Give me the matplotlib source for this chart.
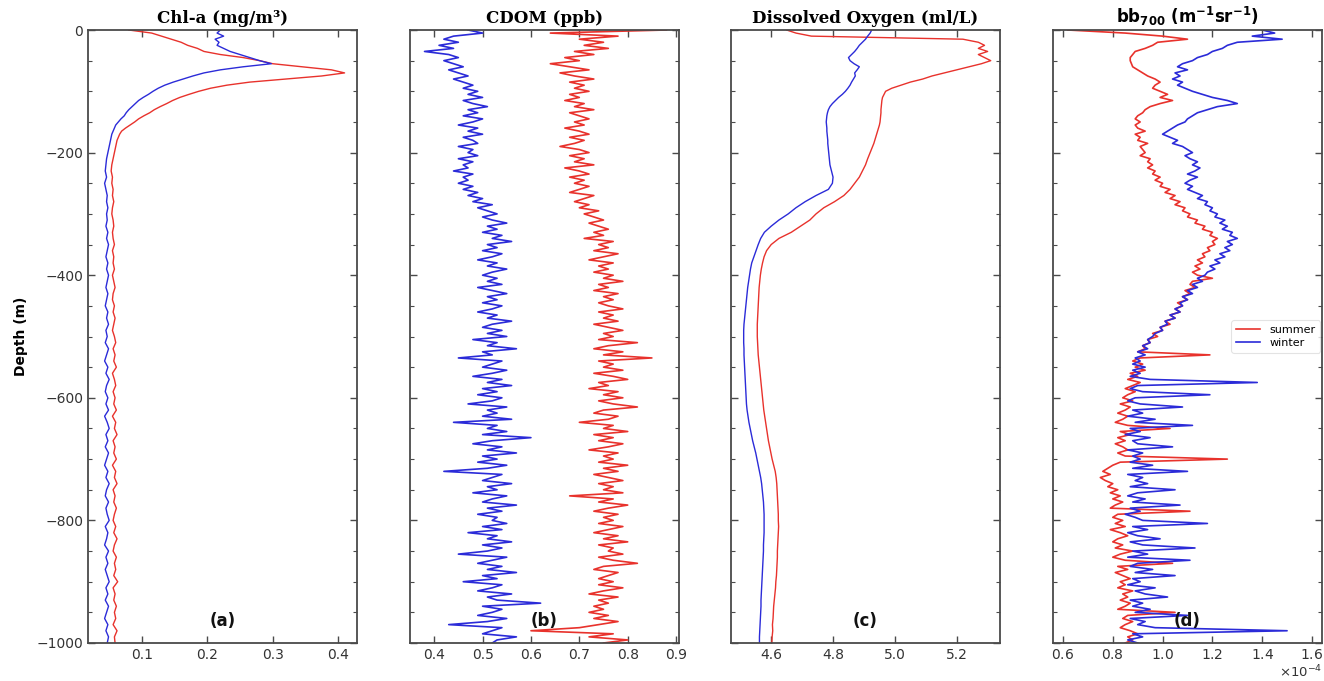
import numpy as np
import matplotlib
matplotlib.use("Agg")
import matplotlib.pyplot as plt
from matplotlib.ticker import MultipleLocator

# ---------------- depth grids (m) ----------------
depth_profile = np.concatenate([np.arange(0, 200, 5), np.arange(200, 1001, 10)])  # 121 pts
depth_5m = np.arange(0, 1001, 5)  # 201 pts

# ---------------- (a) Chl-a (mg/m3) ----------------
chl_summer = [
    0.08, 0.115, 0.13, 0.145, 0.16, 0.17, 0.185, 0.195, 0.22, 0.255,
    0.28, 0.30, 0.345, 0.39, 0.41, 0.375, 0.32, 0.265, 0.23, 0.205,
    0.187, 0.172, 0.158, 0.147, 0.138, 0.128, 0.119, 0.112, 0.103, 0.095,
    0.089, 0.082, 0.075, 0.069, 0.066, 0.064, 0.062, 0.061, 0.060, 0.059,
    0.058, 0.056, 0.054, 0.053, 0.055, 0.054, 0.056, 0.055, 0.057, 0.055,
    0.054, 0.056, 0.057, 0.055, 0.056, 0.058, 0.055, 0.057, 0.056, 0.058,
    0.055, 0.057, 0.059, 0.056, 0.055, 0.058, 0.056, 0.059, 0.057, 0.055,
    0.058, 0.060, 0.056, 0.059, 0.057, 0.061, 0.055, 0.058, 0.060, 0.056,
    0.059, 0.057, 0.061, 0.055, 0.060, 0.058, 0.062, 0.056, 0.059, 0.057,
    0.061, 0.055, 0.060, 0.058, 0.062, 0.056, 0.059, 0.057, 0.061, 0.058,
    0.056, 0.060, 0.057, 0.062, 0.058, 0.056, 0.061, 0.058, 0.060, 0.057,
    0.063, 0.056, 0.059, 0.057, 0.061, 0.058, 0.060, 0.056, 0.062, 0.058,
    0.059,
]
chl_winter = [
    0.22, 0.215, 0.225, 0.212, 0.218, 0.215, 0.225, 0.235, 0.25, 0.265,
    0.28, 0.298, 0.255, 0.22, 0.195, 0.178, 0.163, 0.148, 0.135, 0.125,
    0.117, 0.110, 0.102, 0.095, 0.090, 0.085, 0.080, 0.076, 0.073, 0.068,
    0.064, 0.060, 0.058, 0.056, 0.054, 0.053, 0.052, 0.051, 0.050, 0.049,
    0.048, 0.046, 0.045, 0.044, 0.046, 0.043, 0.045, 0.047, 0.046, 0.048,
    0.046, 0.047, 0.045, 0.048, 0.046, 0.049, 0.047, 0.045, 0.048, 0.046,
    0.049, 0.047, 0.045, 0.048, 0.046, 0.044, 0.048, 0.046, 0.049, 0.045,
    0.047, 0.044, 0.049, 0.046, 0.043, 0.048, 0.045, 0.050, 0.046, 0.044,
    0.048, 0.045, 0.049, 0.043, 0.047, 0.050, 0.045, 0.048, 0.044, 0.049,
    0.046, 0.043, 0.048, 0.045, 0.050, 0.046, 0.044, 0.049, 0.045, 0.047,
    0.050, 0.044, 0.048, 0.046, 0.043, 0.049, 0.045, 0.048, 0.044, 0.047,
    0.050, 0.045, 0.048, 0.044, 0.049, 0.046, 0.043, 0.048, 0.045, 0.049,
    0.047,
]

# ---------------- (b) CDOM (ppb) ----------------
cdom_summer = [
    0.88, 0.64, 0.78, 0.70, 0.75, 0.71, 0.76, 0.69, 0.73, 0.67,
    0.70, 0.64, 0.68, 0.72, 0.66, 0.69, 0.73, 0.68, 0.71, 0.69,
    0.72, 0.68, 0.70, 0.67, 0.71, 0.69, 0.73, 0.68, 0.70, 0.72,
    0.69, 0.71, 0.67, 0.70, 0.72, 0.68, 0.71, 0.69, 0.66, 0.70,
    0.72, 0.68, 0.71, 0.69, 0.73, 0.67, 0.70, 0.72, 0.68, 0.71,
    0.69, 0.72, 0.70, 0.68, 0.73, 0.71, 0.69, 0.72, 0.70, 0.74,
    0.71, 0.73, 0.75, 0.72, 0.74, 0.76, 0.73, 0.75, 0.71, 0.77,
    0.74, 0.76, 0.73, 0.78, 0.75, 0.72, 0.77, 0.74, 0.76, 0.73,
    0.77, 0.75, 0.79, 0.74, 0.76, 0.73, 0.78, 0.75, 0.77, 0.74,
    0.76, 0.79, 0.74, 0.77, 0.75, 0.78, 0.73, 0.76, 0.79, 0.75,
    0.77, 0.74, 0.82, 0.76, 0.73, 0.79, 0.75, 0.85, 0.74, 0.77,
    0.75, 0.79, 0.73, 0.77, 0.80, 0.74, 0.76, 0.72, 0.78, 0.75,
    0.79, 0.74, 0.77, 0.82, 0.75, 0.73, 0.78, 0.76, 0.70, 0.77,
    0.75, 0.80, 0.73, 0.77, 0.74, 0.79, 0.76, 0.72, 0.78, 0.75,
    0.77, 0.74, 0.80, 0.75, 0.78, 0.73, 0.76, 0.79, 0.74, 0.77,
    0.75, 0.79, 0.68, 0.77, 0.74, 0.80, 0.76, 0.73, 0.78, 0.75,
    0.77, 0.74, 0.79, 0.76, 0.73, 0.78, 0.75, 0.80, 0.74, 0.77,
    0.76, 0.79, 0.74, 0.77, 0.82, 0.75, 0.73, 0.78, 0.76, 0.74,
    0.77, 0.74, 0.79, 0.75, 0.72, 0.78, 0.74, 0.76, 0.73, 0.75,
    0.72, 0.76, 0.73, 0.78, 0.74, 0.70, 0.60, 0.77, 0.72, 0.80,
    0.75,
]
cdom_winter = [
    0.47, 0.50, 0.44, 0.42, 0.45, 0.41, 0.44, 0.38, 0.43, 0.45,
    0.42, 0.44, 0.46, 0.43, 0.45, 0.47, 0.44, 0.46, 0.48, 0.46,
    0.49, 0.47, 0.50, 0.46, 0.48, 0.51, 0.47, 0.49, 0.46, 0.50,
    0.48, 0.45, 0.49, 0.47, 0.50, 0.46, 0.48, 0.49, 0.45, 0.48,
    0.47, 0.49, 0.45, 0.48, 0.46, 0.47, 0.44, 0.48, 0.46, 0.47,
    0.45, 0.48, 0.46, 0.49, 0.47, 0.50, 0.48, 0.52, 0.49, 0.51,
    0.53, 0.50, 0.52, 0.55, 0.51, 0.53, 0.50, 0.54, 0.52, 0.56,
    0.51, 0.53, 0.50, 0.54, 0.52, 0.49, 0.53, 0.51, 0.55, 0.52,
    0.50, 0.53, 0.51, 0.54, 0.49, 0.52, 0.55, 0.51, 0.53, 0.50,
    0.54, 0.52, 0.49, 0.53, 0.51, 0.56, 0.52, 0.50, 0.54, 0.51,
    0.55, 0.48, 0.53, 0.51, 0.57, 0.50, 0.52, 0.45, 0.54, 0.52,
    0.50, 0.55, 0.52, 0.48, 0.54, 0.51, 0.56, 0.50, 0.53, 0.49,
    0.54, 0.52, 0.47, 0.55, 0.51, 0.53, 0.50, 0.56, 0.44, 0.53,
    0.51, 0.55, 0.50, 0.60, 0.52, 0.48, 0.54, 0.51, 0.57, 0.50,
    0.53, 0.49, 0.55, 0.51, 0.42, 0.54, 0.52, 0.50, 0.56, 0.51,
    0.53, 0.48, 0.55, 0.52, 0.50, 0.57, 0.51, 0.54, 0.49, 0.53,
    0.52, 0.55, 0.50, 0.54, 0.47, 0.53, 0.51, 0.56, 0.50, 0.54,
    0.51, 0.45, 0.55, 0.52, 0.49, 0.54, 0.51, 0.57, 0.50, 0.53,
    0.46, 0.54, 0.52, 0.49, 0.56, 0.51, 0.53, 0.62, 0.50, 0.54,
    0.52, 0.49, 0.55, 0.51, 0.43, 0.54, 0.52, 0.50, 0.57, 0.53,
    0.52,
]

# ---------------- (c) Dissolved oxygen (ml/L) ----------------
do_summer = [
    4.65, 4.68, 4.73, 5.22, 5.27, 5.29, 5.27, 5.30, 5.27, 5.29,
    5.31, 5.28, 5.24, 5.20, 5.16, 5.12, 5.09, 5.05, 5.02, 4.99,
    4.97, 4.965, 4.96, 4.958, 4.957, 4.956, 4.955, 4.955, 4.954, 4.953,
    4.952, 4.95, 4.947, 4.944, 4.941, 4.938, 4.935, 4.932, 4.928, 4.924,
    4.92, 4.912, 4.905, 4.895, 4.885, 4.87, 4.855, 4.835, 4.805, 4.77,
    4.745, 4.725, 4.695, 4.665, 4.625, 4.60, 4.585, 4.577, 4.572, 4.568,
    4.565, 4.563, 4.561, 4.560, 4.559, 4.558, 4.557, 4.556, 4.555, 4.555,
    4.555, 4.556, 4.557, 4.558, 4.560, 4.562, 4.564, 4.566, 4.568, 4.570,
    4.572, 4.574, 4.576, 4.579, 4.582, 4.585, 4.588, 4.591, 4.595, 4.599,
    4.603, 4.608, 4.613, 4.616, 4.618, 4.619, 4.620, 4.621, 4.622, 4.623,
    4.623, 4.624, 4.623, 4.622, 4.621, 4.620, 4.620, 4.619, 4.618, 4.617,
    4.615, 4.614, 4.612, 4.610, 4.608, 4.607, 4.606, 4.604, 4.605, 4.603,
    4.602,
]
do_winter = [
    4.925, 4.92, 4.912, 4.905, 4.895, 4.885, 4.878, 4.87, 4.86, 4.85,
    4.855, 4.868, 4.885, 4.878, 4.87, 4.872, 4.866, 4.86, 4.855, 4.848,
    4.84, 4.83, 4.818, 4.808, 4.798, 4.79, 4.785, 4.782, 4.78, 4.779,
    4.778, 4.779, 4.78, 4.78, 4.781, 4.782, 4.783, 4.783, 4.784, 4.785,
    4.786, 4.788, 4.79, 4.795, 4.80, 4.798, 4.785, 4.745, 4.71, 4.68,
    4.655, 4.625, 4.60, 4.578, 4.566, 4.558, 4.551, 4.544, 4.537, 4.533,
    4.530, 4.527, 4.524, 4.522, 4.520, 4.518, 4.516, 4.514, 4.512, 4.511,
    4.511, 4.511, 4.512, 4.512, 4.513, 4.514, 4.515, 4.516, 4.517, 4.518,
    4.519, 4.520, 4.522, 4.525, 4.528, 4.532, 4.536, 4.540, 4.545, 4.550,
    4.554, 4.558, 4.562, 4.566, 4.569, 4.571, 4.573, 4.575, 4.576, 4.577,
    4.577, 4.577, 4.577, 4.576, 4.575, 4.575, 4.574, 4.573, 4.572, 4.571,
    4.570, 4.569, 4.568, 4.567, 4.567, 4.566, 4.565, 4.564, 4.563, 4.562,
    4.562,
]

# ---------------- (d) bb700 (x1e-4 m^-1 sr^-1) ----------------
bb_summer = [
    0.62, 0.85, 1.00, 1.10, 0.98, 0.96, 0.93, 0.89, 0.88, 0.87,
    0.87, 0.875, 0.88, 0.90, 0.92, 0.94, 0.97, 0.99, 0.97, 0.96,
    0.99, 1.02, 0.99, 1.04, 0.99, 0.95, 0.93, 0.92, 0.90, 0.89,
    0.91, 0.89, 0.90, 0.93, 0.89, 0.91, 0.90, 0.94, 0.91, 0.92,
    0.93, 0.91, 0.95, 0.94, 0.96, 0.94, 0.97, 0.96, 0.99, 0.97,
    1.00, 0.99, 1.03, 1.01, 1.05, 1.03, 1.07, 1.05, 1.09, 1.08,
    1.11, 1.10, 1.14, 1.13, 1.17, 1.16, 1.20, 1.19, 1.22, 1.20,
    1.21, 1.18, 1.19, 1.16, 1.17, 1.14, 1.16, 1.13, 1.15, 1.12,
    1.14, 1.20, 1.12, 1.11, 1.13, 1.09, 1.11, 1.08, 1.10, 1.06,
    1.08, 1.05, 1.07, 1.03, 1.05, 1.01, 1.03, 0.99, 1.00, 0.96,
    0.98, 0.94, 0.95, 0.92, 0.93, 0.90, 1.19, 0.91, 0.88, 0.92,
    0.89, 0.93, 0.87, 0.90, 0.86, 0.91, 0.88, 0.85, 0.89, 0.86,
    0.84, 0.88, 0.83, 0.87, 0.85, 0.82, 0.86, 0.84, 0.81, 0.86,
    1.03, 0.83, 0.87, 0.82, 0.85, 0.81, 0.84, 0.86, 0.82, 0.85,
    1.26, 0.83, 0.80, 0.78, 0.76, 0.79, 0.75, 0.77, 0.80, 0.78,
    0.82, 0.79, 0.83, 0.80, 0.84, 0.81, 0.79, 1.11, 0.82, 0.80,
    0.84, 0.81, 0.85, 0.79, 0.83, 0.86, 0.82, 0.80, 0.84, 0.81,
    0.88, 0.83, 0.80, 0.85, 1.04, 0.82, 0.86, 0.81, 0.84, 0.87,
    0.83, 0.85, 0.82, 0.88, 0.84, 0.86, 0.83, 0.87, 0.85, 0.82,
    1.05, 0.86, 0.84, 0.88, 0.85, 0.83, 0.87, 0.90, 0.86, 0.88,
    0.85,
]
bb_winter = [
    1.40, 1.45, 1.36, 1.48, 1.30, 1.26, 1.24, 1.20, 1.18, 1.14,
    1.12, 1.08, 1.06, 1.10, 1.05, 1.07, 1.04, 1.08, 1.06, 1.09,
    1.12, 1.16, 1.20, 1.26, 1.30, 1.22, 1.18, 1.14, 1.12, 1.10,
    1.09, 1.06, 1.04, 1.02, 1.00, 1.03, 1.06, 1.04, 1.08, 1.10,
    1.12, 1.09, 1.11, 1.14, 1.12, 1.15, 1.13, 1.10, 1.14, 1.11,
    1.09, 1.12, 1.10, 1.13, 1.16, 1.14, 1.18, 1.17, 1.20, 1.19,
    1.22, 1.21, 1.25, 1.23, 1.26, 1.24, 1.28, 1.27, 1.30, 1.26,
    1.28, 1.25, 1.27, 1.23, 1.25, 1.21, 1.23, 1.19, 1.21, 1.18,
    1.17, 1.14, 1.16, 1.12, 1.14, 1.10, 1.12, 1.08, 1.10, 1.07,
    1.08, 1.05, 1.07, 1.03, 1.05, 1.01, 1.02, 0.99, 1.00, 0.97,
    0.96, 0.94, 0.95, 0.92, 0.94, 0.90, 0.93, 0.89, 0.91, 0.88,
    0.93, 0.88, 0.91, 0.87, 0.95, 1.38, 0.90, 0.87, 0.92, 1.19,
    0.89, 0.86, 0.91, 1.08, 0.88, 0.92, 0.86, 0.97, 0.89, 1.12,
    0.87, 0.91, 0.85, 0.95, 0.88, 0.90, 1.04, 0.86, 0.92, 0.88,
    0.91, 0.87, 0.96, 0.88, 1.10, 0.86, 0.92, 0.89, 0.94, 0.87,
    1.05, 0.90, 0.86, 0.93, 0.88, 1.07, 0.87, 0.91, 0.85, 0.89,
    0.92, 1.18, 0.88, 0.94, 0.86, 0.90, 0.99, 0.87, 0.92, 1.13,
    0.88, 0.94, 0.86, 1.11, 0.90, 0.87, 0.96, 0.89, 1.05, 0.88,
    0.91, 0.86, 0.97, 0.89, 0.93, 1.02, 0.87, 0.92, 0.88, 0.95,
    0.89, 1.10, 0.87, 0.93, 0.90, 0.97, 1.50, 0.88, 0.92, 0.86,
    0.90,
]

# ---------------- labels / ticks ----------------
titles = ["Chl-a (mg/m³)", "CDOM (ppb)", "Dissolved Oxygen (ml/L)",
          r"bb$_{\mathbf{700}}$ (m$^{\mathbf{-1}}$sr$^{\mathbf{-1}}$)"]
panel_tags = ["(a)", "(b)", "(c)", "(d)"]
xticks_a = [0.1, 0.2, 0.3, 0.4]
xticks_b = [0.4, 0.5, 0.6, 0.7, 0.8, 0.9]
xticks_c = [4.6, 4.8, 5.0, 5.2]
xticks_d = [0.6, 0.8, 1.0, 1.2, 1.4, 1.6]
series_names = ["summer", "winter"]

for name, arr, dep in [("chl_summer", chl_summer, depth_profile), ("chl_winter", chl_winter, depth_profile),
                       ("do_summer", do_summer, depth_profile), ("do_winter", do_winter, depth_profile),
                       ("cdom_summer", cdom_summer, depth_5m), ("cdom_winter", cdom_winter, depth_5m),
                       ("bb_summer", bb_summer, depth_5m), ("bb_winter", bb_winter, depth_5m)]:
    if len(arr) != len(dep):
        raise ValueError(f"{name}: {len(arr)} values vs {len(dep)} depths")

RED = "#e8322c"
BLUE = "#2b2bd8"
SPINE = "#4a4a4a"

fig = plt.figure(figsize=(13.24, 6.81), dpi=100)
W, H = 1324.0, 681.0
lefts = [88, 410, 731, 1053]
axes = [fig.add_axes([l / W, 38 / H, 269 / W, 613 / H]) for l in lefts]

data = [
    (chl_summer, chl_winter, depth_profile, 1.0, 1.0),
    (cdom_summer, cdom_winter, depth_5m, 1.0, 1.2),
    (do_summer, do_winter, depth_profile, 1.0, 1.0),
    (bb_summer, bb_winter, depth_5m, 1e-4, 1.2),
]
xlims = [(0.0176, 0.429), (0.35, 0.906), (4.47, 5.34), (0.56e-4, 1.64e-4)]
xticks = [xticks_a, xticks_b, xticks_c, [v * 1e-4 for v in xticks_d]]

for i, ax in enumerate(axes):
    s, w, dep, scale, lw = data[i]
    ax.plot(np.asarray(s) * scale, -dep, color=RED, lw=lw, label=series_names[0])
    ax.plot(np.asarray(w) * scale, -dep, color=BLUE, lw=lw, label=series_names[1])
    ax.set_xlim(*xlims[i])
    ax.set_ylim(-1000, 0)
    ax.set_xticks(xticks[i])
    ax.yaxis.set_major_locator(MultipleLocator(200))
    ax.yaxis.set_minor_locator(MultipleLocator(50))
    ax.tick_params(which="both", direction="in", top=True, right=True,
                   color=SPINE, labelsize=10, labelcolor="#333333")
    ax.tick_params(which="major", length=5, width=1.0)
    ax.tick_params(which="minor", length=3, width=0.8)
    for sp in ax.spines.values():
        sp.set_color(SPINE)
        sp.set_linewidth(1.3)
    if i > 0:
        ax.tick_params(labelleft=False)
    fam = "DejaVu Serif" if i < 3 else "DejaVu Sans"
    ax.set_title(titles[i], fontfamily=fam, fontweight="bold", fontsize=12, pad=5)
    ax.text(0.5, 0.036, panel_tags[i], transform=ax.transAxes, ha="center",
            va="center", fontweight="bold", fontsize=12, color="#111111")

axes[0].set_ylabel("Depth (m)", fontweight="bold", fontsize=10, labelpad=6)

axd = axes[3]
axd.ticklabel_format(axis="x", style="sci", scilimits=(0, 0), useMathText=True)
axd.xaxis.get_offset_text().set_visible(False)
axd.text(1.0, -0.047, r"$\times10^{-4}$", transform=axd.transAxes, ha="right",
         va="center", fontsize=9.5, color="#333333")
leg = axd.legend(loc="center right", fontsize=8, handlelength=2.2, frameon=True,
                 borderaxespad=0.2, labelspacing=0.3)
leg.get_frame().set_edgecolor("#dddddd")
leg.get_frame().set_linewidth(0.8)

fig.savefig("out.png", dpi=100)
